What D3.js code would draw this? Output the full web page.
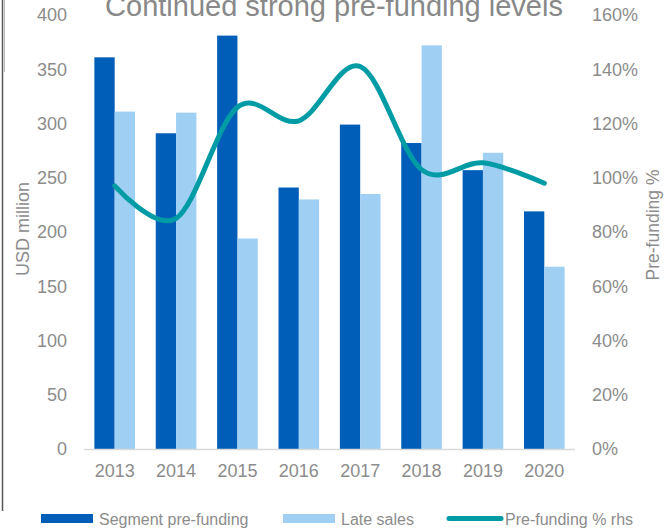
<!DOCTYPE html>
<html>
<head>
<meta charset="utf-8">
<script src="https://cdn.jsdelivr.net/npm/d3@7"></script>
<style>
  body { margin: 0; background: #fff; }
  svg { display: block; font-family: Arial, "Liberation Sans", sans-serif; }
</style>
</head>
<body>
<script>
// chart data
var years = ['2013', '2014', '2015', '2016', '2017', '2018', '2019', '2020'];
var segmentPrefunding = [361, 291, 381, 241, 299, 282, 257, 219];
var lateSales = [311, 310, 194, 230, 235, 372, 273, 168];
var prefundingPct = [0.97, 0.85, 1.26, 1.21, 1.41, 1.03, 1.055, 0.98];
var leftTicks = [0, 50, 100, 150, 200, 250, 300, 350, 400];
var rightTicks = [0, 0.2, 0.4, 0.6, 0.8, 1.0, 1.2, 1.4, 1.6];

var W = 664, H = 529;
var plot = {left: 84, right: 575, top: 15, bottom: 449};
var darkBlue = '#005eb8', lightBlue = '#9fcff3', teal = '#009ca6', grey = '#8c8c8c';

var svg = d3.select('body').append('svg')
    .attr('width', W)
    .attr('height', H);

// scales
var x0 = d3.scaleBand().domain(years).range([plot.left, plot.right]).paddingInner(0.338).paddingOuter(0.169);
var x1 = d3.scaleBand().domain(['seg', 'late']).range([0, x0.bandwidth()]);
var yL = d3.scaleLinear().domain([0, 400]).range([plot.bottom, plot.top]);
var yR = d3.scaleLinear().domain([0, 1.6]).range([plot.bottom, plot.top]);

// frame lines at the left edge
svg.append('line').attr('x1', 2.5).attr('x2', 2.5).attr('y1', 0).attr('y2', 511)
    .attr('stroke', '#555').attr('stroke-width', 1.5);
svg.append('line').attr('x1', 4.5).attr('x2', 4.5).attr('y1', 0).attr('y2', 72)
    .attr('stroke', '#bbb').attr('stroke-width', 1);

// bars
var groups = svg.selectAll('.yr')
    .data(years)
    .enter().append('g')
    .attr('class', 'yr')
    .attr('transform', function(d) { return 'translate(' + x0(d) + ',0)'; });

groups.append('rect')
    .attr('x', x1('seg'))
    .attr('width', x1.bandwidth())
    .attr('y', function(d, i) { return yL(segmentPrefunding[i]); })
    .attr('height', function(d, i) { return yL(0) - yL(segmentPrefunding[i]); })
    .attr('fill', darkBlue);

groups.append('rect')
    .attr('x', x1('late'))
    .attr('width', x1.bandwidth())
    .attr('y', function(d, i) { return yL(lateSales[i]); })
    .attr('height', function(d, i) { return yL(0) - yL(lateSales[i]); })
    .attr('fill', lightBlue);

// baseline
svg.append('line')
    .attr('x1', plot.left).attr('x2', plot.right)
    .attr('y1', plot.bottom + 0.5).attr('y2', plot.bottom + 0.5)
    .attr('stroke', '#d9d9d9').attr('stroke-width', 1.5);

// smoothed line on the right axis
var line = d3.line()
    .x(function(d, i) { return x0(years[i]) + x0.bandwidth() / 2; })
    .y(function(d) { return yR(d); })
    .curve(d3.curveCardinal.tension(0));

svg.append('path')
    .datum(prefundingPct)
    .attr('d', line)
    .attr('fill', 'none')
    .attr('stroke', teal)
    .attr('stroke-width', 5)
    .attr('stroke-linecap', 'round');

// axes
function styleAxis(g) {
    g.select('.domain').remove();
    g.selectAll('text').attr('fill', grey).attr('font-size', '18px');
}

svg.append('g')
    .attr('transform', 'translate(' + plot.left + ',0)')
    .call(d3.axisLeft(yL).tickValues(leftTicks).tickSize(0).tickPadding(17))
    .call(styleAxis);

svg.append('g')
    .attr('transform', 'translate(' + plot.right + ',0)')
    .call(d3.axisRight(yR).tickValues(rightTicks).tickSize(0).tickPadding(17).tickFormat(d3.format('.0%')))
    .call(styleAxis);

svg.append('g')
    .attr('transform', 'translate(0,' + plot.bottom + ')')
    .call(d3.axisBottom(x0).tickSize(0).tickPadding(15))
    .call(styleAxis);

// axis titles
svg.append('text')
    .attr('transform', 'translate(23,229) rotate(-90)')
    .attr('text-anchor', 'middle')
    .attr('dominant-baseline', 'central')
    .attr('fill', grey)
    .attr('font-size', '18px')
    .text('USD million');

svg.append('text')
    .attr('transform', 'translate(653,225) rotate(-90)')
    .attr('text-anchor', 'middle')
    .attr('dominant-baseline', 'central')
    .attr('fill', grey)
    .attr('font-size', '17.5px')
    .text('Pre-funding %');

// title (cut at the top edge, as in the reference)
svg.append('text')
    .attr('x', 334)
    .attr('y', 16)
    .attr('text-anchor', 'middle')
    .attr('fill', '#888')
    .attr('font-size', '29px')
    .text('Continued strong pre-funding levels');

// legend
var legend = svg.append('g').attr('class', 'legend');
legend.append('rect').attr('x', 41).attr('y', 514).attr('width', 52).attr('height', 9).attr('fill', darkBlue);
legend.append('text').attr('x', 99).attr('y', 519).attr('dominant-baseline', 'central')
    .attr('fill', grey).attr('font-size', '16px').text('Segment pre-funding');
legend.append('rect').attr('x', 283).attr('y', 514).attr('width', 52).attr('height', 9).attr('fill', lightBlue);
legend.append('text').attr('x', 341).attr('y', 519).attr('dominant-baseline', 'central')
    .attr('fill', grey).attr('font-size', '16px').text('Late sales');
legend.append('line').attr('x1', 449).attr('x2', 501).attr('y1', 518.5).attr('y2', 518.5)
    .attr('stroke', teal).attr('stroke-width', 5).attr('stroke-linecap', 'round');
legend.append('text').attr('x', 505).attr('y', 519).attr('dominant-baseline', 'central')
    .attr('fill', grey).attr('font-size', '16px').text('Pre-funding % rhs');
</script>
</body>
</html>
